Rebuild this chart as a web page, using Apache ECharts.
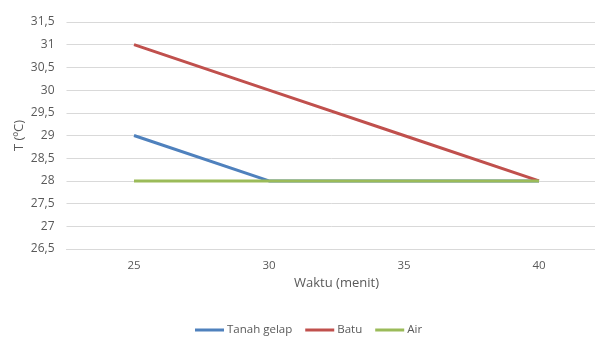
<!DOCTYPE html>
<html><head><meta charset="utf-8">
<script src="https://cdn.jsdelivr.net/npm/echarts@6/dist/echarts.min.js"></script>
<style>html,body{margin:0;padding:0;background:#fff}#c{width:595px;height:338px}</style>
</head><body><div id="c"></div>
<script>
const categories = ['25', '30', '35', '40'];
const tanahGelap = [29, 28, 28, 28];
const batu = [31, 30, 29, 28];
const air = [28, 28, 28, 28];
const seriesNames = ['Tanah gelap', 'Batu', 'Air'];
const colors = ['#4F81BD', '#C0504D', '#9BBB59'];
const font = 'Open Sans';
const chart = echarts.init(document.getElementById('c'), null, {renderer: 'canvas'});
const mk = (name, data, color) => ({
  name, type: 'line', data, symbol: 'none', animation: false,
  lineStyle: {color, width: 3}, itemStyle: {color}
});
chart.setOption({
  animation: false,
  textStyle: {fontFamily: font},
  grid: {left: 66.5, width: 540, top: 22, bottom: 89, containLabel: false, outerBoundsMode: 'none'},
  xAxis: {
    type: 'category', data: categories, boundaryGap: true,
    name: 'Waktu (menit)', nameLocation: 'middle', nameGap: 25,
    nameTextStyle: {color: '#595959', fontSize: 13, fontFamily: font},
    axisLine: {show: true, lineStyle: {color: '#d9d9d9'}},
    axisTick: {show: false},
    axisLabel: {color: '#595959', fontSize: 11.5, margin: 11, fontFamily: font},
    splitLine: {show: false}
  },
  yAxis: {
    type: 'value', min: 26.5, max: 31.5, interval: 0.5,
    name: 'T (ºC)', nameLocation: 'middle', nameGap: 41, nameRotate: 90,
    nameMoveOverlap: false,
    nameTextStyle: {color: '#595959', fontSize: 13, fontFamily: font},
    axisLine: {show: false}, axisTick: {show: false},
    axisLabel: {color: '#595959', fontSize: 12, margin: 12, fontFamily: font,
      formatter: v => String(v).replace('.', ',')},
    splitLine: {lineStyle: {color: '#d9d9d9', width: 1}}
  },
  legend: {
    data: seriesNames, top: 324, left: 195, padding: 0,
    icon: 'rect', itemWidth: 29, itemHeight: 3, itemGap: 13,
    textStyle: {color: '#595959', fontSize: 11.5, fontFamily: font, padding: [0,0,0,-2]}
  },
  series: [
    mk(seriesNames[0], tanahGelap, colors[0]),
    mk(seriesNames[1], batu, colors[1]),
    mk(seriesNames[2], air, colors[2])
  ]
});
</script></body></html>
